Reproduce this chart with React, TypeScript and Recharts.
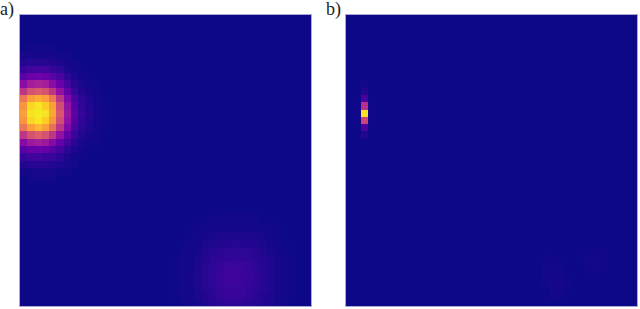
import { ScatterChart, Scatter, XAxis, YAxis } from "recharts"

const GRID = 40
const PANEL_SIZE = 291
const CELL = PANEL_SIZE / GRID

// matplotlib plasma, sampled every 0.1
const PLASMA = [
  "#0d0887", "#41049d", "#6a00a8", "#8f0da4", "#b12a90", "#cc4778",
  "#e16462", "#f2844b", "#fca636", "#fcce25", "#f0f921",
]

// values are hundredths of the colour range
// panel a, hot spot: first column 0, first row 4
const hotSpotA = [
  [0, 1, 1, 1, 1, 0, 0, 0, 0, 0, 0, 0],
  [2, 2, 2, 2, 2, 1, 1, 0, 0, 0, 0, 0],
  [4, 5, 5, 5, 4, 3, 2, 1, 0, 0, 0, 0],
  [8, 10, 11, 10, 8, 6, 3, 1.5, 0.5, 0, 0, 0],
  [16, 20, 21, 20, 16, 12, 6, 3, 1, 0.5, 0, 0],
  [29, 36, 38, 36, 29, 20, 11, 5, 2.5, 1, 0.5, 0],
  [44, 54, 57, 54, 44, 31, 18, 8, 4, 2, 1, 0],
  [66, 78, 82, 78, 66, 44, 26, 12, 6, 3, 1, 0.5],
  [75, 92, 96, 90, 78, 52, 31, 15, 7, 3.5, 1.5, 0.5],
  [78, 95, 97, 95, 80, 55, 33, 16, 8, 4, 2, 0.5],
  [75, 92, 96, 90, 76, 52, 31, 15, 7, 3.5, 1.5, 0.5],
  [66, 78, 84, 78, 64, 44, 26, 12, 6, 3, 1, 0.5],
  [44, 54, 58, 54, 44, 31, 18, 8, 4, 2, 1, 0],
  [28, 34, 36, 34, 27, 19, 11, 5, 2.5, 1, 0.5, 0],
  [16, 19, 20, 19, 15, 11, 6, 3, 1, 0.5, 0, 0],
  [8, 10, 10, 9, 8, 6, 3, 1.5, 0.5, 0, 0, 0],
  [4, 5, 5, 5, 4, 3, 2, 1, 0, 0, 0, 0],
  [2, 2, 2, 2, 2, 1, 1, 0, 0, 0, 0, 0],
  [0, 1, 1, 1, 1, 0, 0, 0, 0, 0, 0, 0],
]

// panel a, faint glow: first column 21, first row 27
const glowA = [
  [0, 0, 0, 0, 0, 0.5, 0.5, 0.5, 0.5, 0.5, 0.5, 0.5, 0, 0, 0, 0, 0],
  [0, 0, 0, 0.5, 0.5, 1, 1, 1, 1, 1, 1, 1, 0.5, 0.5, 0, 0, 0],
  [0, 0, 0.5, 1, 1, 1.5, 2, 2, 2, 2, 2, 1.5, 1, 1, 0.5, 0, 0],
  [0, 0, 0.5, 1, 2, 2.5, 3, 3, 3.5, 3, 3, 2.5, 2, 1, 0.5, 0, 0],
  [0, 0.5, 1, 1.5, 3, 3.5, 4, 4.5, 5, 4.5, 4, 3.5, 3, 1.5, 1, 0.5, 0],
  [0, 0.5, 1, 2, 3.5, 4.5, 5.5, 6, 6.5, 6, 5.5, 4.5, 3.5, 2, 1, 0.5, 0],
  [0.5, 1, 1.5, 3, 4, 5.5, 6.5, 7, 7.5, 7, 6.5, 5.5, 4, 3, 1.5, 1, 0.5],
  [0.5, 1, 1.5, 3, 5, 6, 7.5, 8.5, 8.5, 8.5, 7.5, 6, 5, 3.5, 2, 1, 0.5],
  [0.5, 1, 2, 3.5, 5, 6.5, 8, 9, 9.5, 9, 8, 6.5, 5, 3.5, 2, 1, 0.5],
  [0.5, 1, 2, 3.5, 5, 6.5, 8, 9, 9.5, 9, 8, 6.5, 5, 3.5, 2, 1, 0.5],
  [0.5, 1, 1.5, 3, 5, 6, 7.5, 8.5, 8.5, 8.5, 7.5, 6, 5, 3.5, 2, 1, 0.5],
  [0.5, 1, 1.5, 3, 4, 5.5, 7, 8, 8, 8, 7, 5.5, 4, 3, 1.5, 1, 0.5],
  [0, 0.5, 1, 2, 3.5, 5, 5.5, 6.5, 6.5, 6.5, 5.5, 5, 3.5, 3, 1, 0.5, 0],
]

// panel b, narrow spike: first column 1, first row 9
const spikeB = [
  [0, 1, 0],
  [0, 4, 0],
  [0, 11, 0],
  [0.5, 42, 0.5],
  [1, 95, 1],
  [0.5, 50, 0.5],
  [0, 12, 0],
  [0, 4, 0],
]

// panel b, faint marks: first column 27, first row 32
const faintB = [
  [0, 0, 0, 0, 0, 0.5, 0.5, 0.5, 0.5],
  [0.5, 0.5, 0, 0, 0, 0.5, 1, 1, 0.5],
  [1, 1, 0.5, 0, 0, 0, 0.5, 1, 0.5],
  [1, 1.5, 1, 0, 0, 0, 0.5, 0.5, 0],
  [1, 2, 1.5, 0.5, 0, 0, 0, 0, 0],
  [0.5, 2, 2, 0.5, 0, 0, 0, 0, 0],
  [0, 1.5, 1.5, 0, 0, 0, 0, 0, 0],
]

type Patch = { rows: number[][]; col: number; row: number }
type Point = { x: number; y: number; v: number }

const panelA: Patch[] = [
  { rows: hotSpotA, col: 0, row: 4 },
  { rows: glowA, col: 21, row: 27 },
]
const panelB: Patch[] = [
  { rows: spikeB, col: 1, row: 9 },
  { rows: faintB, col: 27, row: 32 },
]

function toCells(patches: Patch[]): Point[] {
  const out: Point[] = []
  for (let r = 0; r < GRID; r++) {
    for (let c = 0; c < GRID; c++) {
      let v = 0
      for (const p of patches) {
        const val = p.rows[r - p.row]?.[c - p.col]
        if (val !== undefined) v = val
      }
      out.push({ x: c + 0.5, y: r + 0.5, v })
    }
  }
  return out
}

function plasma(v: number) {
  const t = Math.min(v / 100, 1) * (PLASMA.length - 1)
  const i = Math.min(Math.floor(t), PLASMA.length - 2)
  const f = t - i
  const a = PLASMA[i]
  const b = PLASMA[i + 1]
  const ch = (s: string, k: number) => parseInt(s.slice(1 + k * 2, 3 + k * 2), 16)
  const mix = [0, 1, 2].map((k) => Math.round(ch(a, k) + (ch(b, k) - ch(a, k)) * f))
  return `rgb(${mix.join(",")})`
}

function HeatCell(props: any) {
  const { cx, cy, payload } = props
  return (
    <rect
      x={cx - CELL / 2}
      y={cy - CELL / 2}
      width={CELL}
      height={CELL}
      fill={plasma(payload.v)}
      shapeRendering="crispEdges"
    />
  )
}

function Panel({ cells, left }: { cells: Point[]; left: number }) {
  return (
    <div style={{ position: "absolute", left, top: 15, width: PANEL_SIZE, height: PANEL_SIZE, outline: "1px solid rgba(13,8,135,0.35)" }}>
      <ScatterChart width={PANEL_SIZE} height={PANEL_SIZE} margin={{ top: 0, right: 0, bottom: 0, left: 0 }}>
        <XAxis type="number" dataKey="x" domain={[0, GRID]} hide />
        <YAxis type="number" dataKey="y" domain={[0, GRID]} reversed hide />
        <Scatter data={cells} shape={HeatCell} isAnimationActive={false} />
      </ScatterChart>
    </div>
  )
}

const labelStyle = {
  position: "absolute",
  top: -1,
  fontFamily: "'Liberation Serif', serif",
  fontSize: 18,
  color: "#222",
  lineHeight: "20px",
} as const

export default function App() {
  return (
    <div style={{ position: "absolute", left: 0, top: 0, width: 640, height: 309, background: "#fff", overflow: "hidden" }}>
      <span style={{ ...labelStyle, left: 0 }}>a)</span>
      <span style={{ ...labelStyle, left: 326 }}>b)</span>
      <Panel cells={toCells(panelA)} left={19.5} />
      <Panel cells={toCells(panelB)} left={346} />
    </div>
  )
}
